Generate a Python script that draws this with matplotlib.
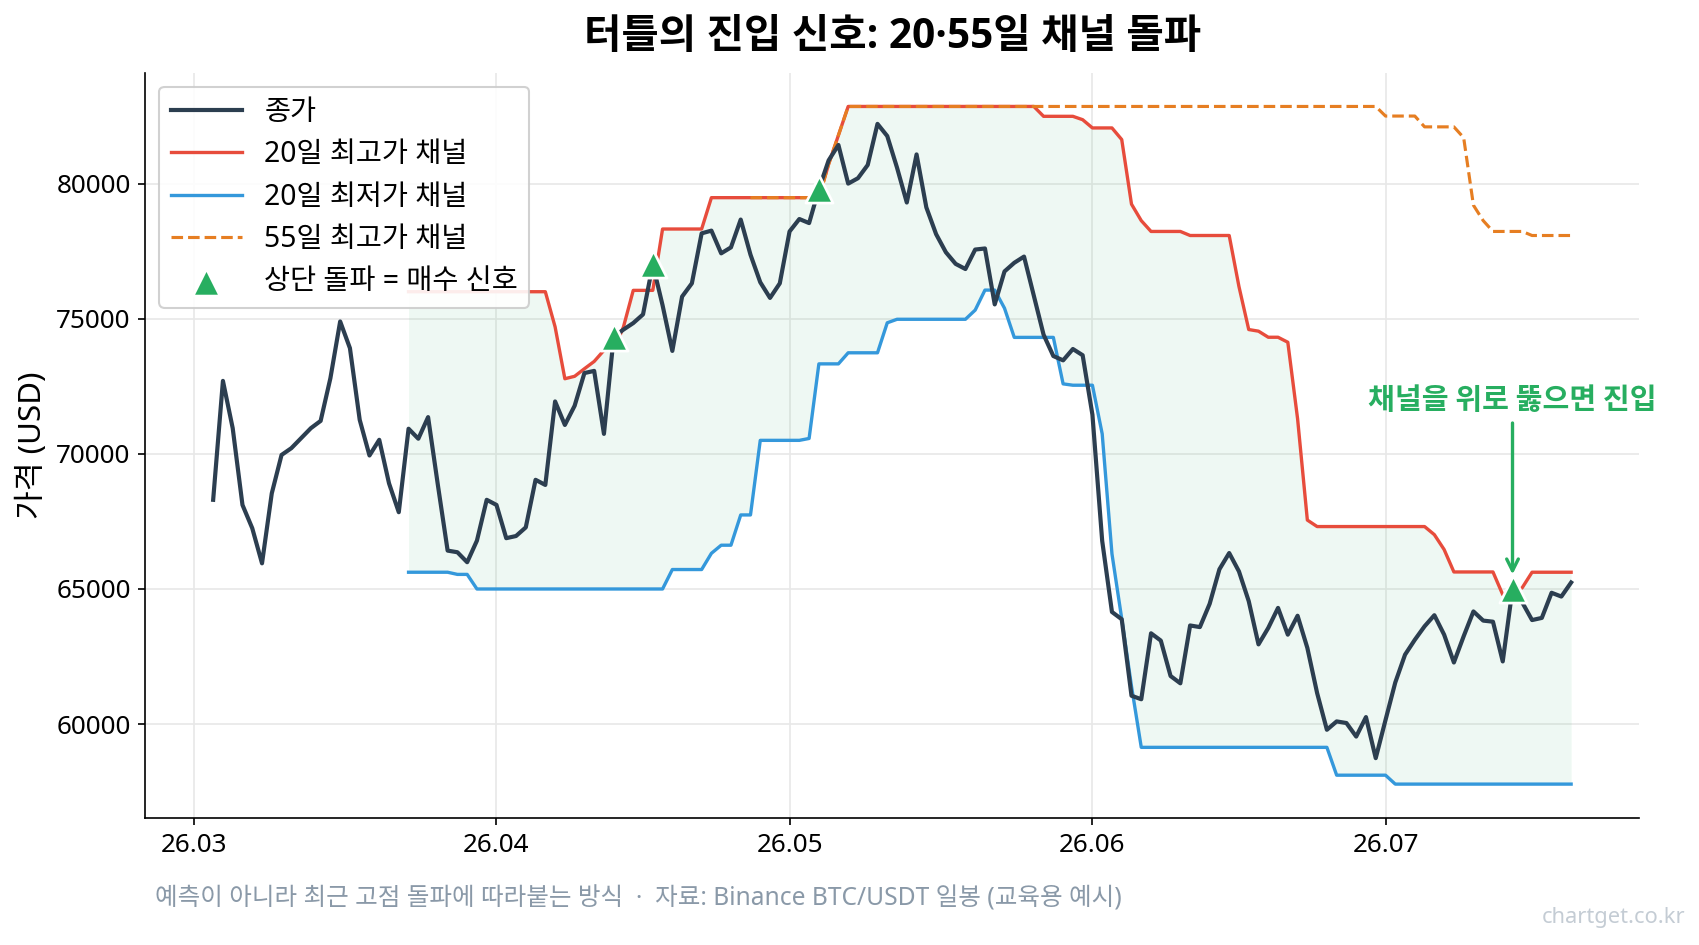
import numpy as np
import pandas as pd
import matplotlib
matplotlib.use('Agg')
import matplotlib.pyplot as plt
import matplotlib.dates as mdates

plt.rcParams['font.family'] = ['Noto Sans', 'Noto Sans CJK KR', 'DejaVu Sans']

NaN = np.nan

start_date = '2026-03-03'

close = [68300, 72700, 70950, 68110, 67250, 65950, 68540, 69960, 70210, 70580,
         70950, 71220, 72800, 74900, 73910, 71260, 69940, 70520, 68910, 67840,
         70930, 70560, 71360, 68850, 66420, 66360, 65990, 66790, 68300, 68110,
         66880, 66960, 67280, 69040, 68850, 71940, 71070, 71780, 72990, 73070,
         70740, 74330, 74600, 74840, 75160, 77010, 75500, 73810, 75820, 76310,
         78160, 78260, 77420, 77640, 78670, 77370, 76350, 75770, 76310, 78230,
         78690, 78540, 79800, 80860, 81430, 80000, 80200, 80690, 82210, 81760,
         80590, 79300, 81080, 79120, 78130, 77460, 77030, 76840, 77560, 77600,
         75530, 76750, 77070, 77300, 75850, 74410, 73620, 73460, 73880, 73650,
         71450, 66780, 64150, 63880, 61050, 60920, 63360, 63090, 61780, 61510,
         63650, 63590, 64450, 65730, 66330, 65650, 64550, 62950, 63560, 64300,
         63310, 64010, 62820, 61150, 59790, 60100, 60040, 59540, 60260, 58740,
         60150, 61540, 62570, 63120, 63620, 64030, 63310, 62280, 63250, 64170,
         63830, 63790, 62320, 65000, 64500, 63850, 63930, 64860, 64720, 65240]

upper20 = ([NaN] * 20 + [76000] * 15 +
           [74700, 72780, 72870, 73150, 73420, 73830, 73830, 74700, 76050, 76050, 76050] +
           [78320] * 5 + [79480] * 12 + [80720, 81790] + [82855] * 20 +
           [82490] * 4 + [82365] + [82060] * 3 + [81630, 79240, 78630] +
           [78230] * 4 + [78080] * 5 + [76190, 74600, 74540, 74315, 74315, 74130, 71300, 67550] +
           [67310] * 12 + [67010, 66460] + [65630] * 5 + [64790, 64790, 65050] + [65620] * 5)

lower20 = ([NaN] * 20 + [65620] * 5 + [65540] * 2 + [65000] * 20 + [65720] * 4 +
           [66320] + [66620] * 2 + [67740] * 2 + [70500] * 5 + [70570] +
           [73330] * 3 + [73740] * 4 + [74850] + [74980] * 8 + [75320] +
           [76060] * 2 + [75390] + [74310] * 5 + [72590] + [72540] * 3 +
           [70740, 66300, 63900, 61400] + [59140] * 20 + [58110] * 6 + [57780] * 19)

upper55 = ([NaN] * 55 + [79480] * 8 + [80720, 81790] + [82855] * 55 +
           [82500] * 4 + [82100] * 4 + [81700, 79200, 78630] + [78230] * 4 + [78080] * 5)

labels = ['종가', '20일 최고가 채널', '20일 최저가 채널', '55일 최고가 채널', '상단 돌파 = 매수 신호']

dates = pd.date_range(start_date, periods=len(close), freq='D')
close = np.array(close, dtype=float)
upper20 = np.array(upper20, dtype=float)
lower20 = np.array(lower20, dtype=float)
upper55 = np.array(upper55, dtype=float)

# crossover above the 20-day high channel
above = close > upper20
sig = np.zeros(len(close), dtype=bool)
sig[1:] = above[1:] & ~above[:-1]
sig_idx = np.where(sig)[0]

fig = plt.figure(figsize=(1699 / 150, 945 / 150), dpi=150)
ax = fig.add_axes([0.0855, 0.1344, 0.9647 - 0.0855, 0.9232 - 0.1344])

ax.fill_between(dates, lower20, upper20, color='#27ae60', alpha=0.075, linewidth=0, zorder=1)
ax.plot(dates, close, color='#2c3e50', lw=2.0, label=labels[0], zorder=4)
ax.plot(dates, upper20, color='#e74c3c', lw=1.6, label=labels[1], zorder=2)
ax.plot(dates, lower20, color='#3498db', lw=1.6, label=labels[2], zorder=2)
ax.plot(dates, upper55, color='#e67e22', lw=1.5, ls='--', label=labels[3], zorder=3)
ax.scatter(dates[sig_idx], close[sig_idx], marker='^', s=170, color='#27ae60',
           edgecolors='white', linewidths=1.3, label=labels[4], zorder=5)

last = sig_idx[-1]
ax.annotate('채널을 위로 뚫으면 진입', xy=(dates[last], close[last]),
            xytext=(dates[last], 71450), ha='center', va='bottom',
            color='#27ae60', fontsize=14, fontweight='bold',
            family=['Noto Sans CJK KR', 'DejaVu Sans'],
            arrowprops=dict(arrowstyle='->', color='#27ae60', lw=1.6, shrinkA=2, shrinkB=7))

ax.xaxis.set_major_locator(mdates.MonthLocator())
ax.xaxis.set_major_formatter(mdates.DateFormatter('%y.%m'))
ax.set_yticks([60000, 65000, 70000, 75000, 80000])
ax.yaxis.set_major_formatter(matplotlib.ticker.FuncFormatter(lambda v, p: f'{v:.0f}'))
ax.tick_params(labelsize=12.5)
ax.grid(True, color='#e8e8e8', lw=0.8)
ax.set_axisbelow(True)
for s in ['top', 'right']:
    ax.spines[s].set_visible(False)
ax.set_ylabel('가격 (USD)', fontsize=15)
ax.set_title('터틀의 진입 신호: 20·55일 채널 돌파', fontsize=19.5, fontweight='bold', pad=12,
             family=['Open Sans', 'Noto Sans CJK KR', 'DejaVu Sans'])

leg = ax.legend(loc='upper left', fontsize=13.6, frameon=True, framealpha=0.9,
                edgecolor='#cccccc', handlelength=2.5, labelspacing=0.47)

fig.text(0.0912, 0.0487, '예측이 아니라 최근 고점 돌파에 따라붙는 방식  ·  자료: Binance BTC/USDT 일봉 (교육용 예시)',
         fontsize=11.8, color='#8a99a8', va='center')
fig.text(0.992, 0.0286, 'chartget.co.kr', fontsize=10.5, color='#c4ccd4', ha='right', va='center')

fig.savefig('out.png', dpi=150)
